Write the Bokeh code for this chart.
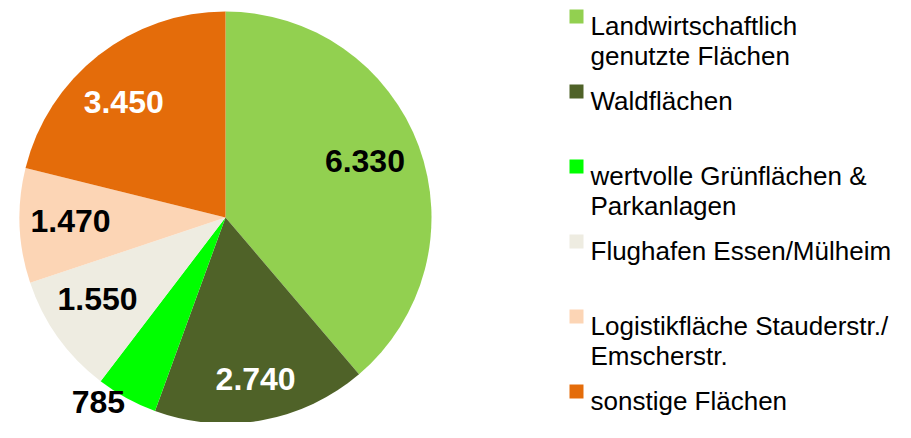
import math
from bokeh.plotting import figure
from bokeh.models import Range1d
from bokeh.core.properties import value
from bokeh.embed import file_html
from bokeh.resources import INLINE

# ---- data ----
categories = ["Landwirtschaftlich\ngenutzte Flächen", "Waldflächen",
              "wertvolle Grünflächen &\nParkanlagen", "Flughafen Essen/Mülheim",
              "Logistikfläche Stauderstr./\nEmscherstr.", "sonstige Flächen"]
values = [6330, 2740, 785, 1550, 1470, 3450]
value_labels = ["6.330", "2.740", "785", "1.550", "1.470", "3.450"]
colors = ["#92D050", "#4F6228", "#00FF00", "#EEECE1", "#FCD5B5", "#E46C0A"]
label_colors = ["black", "white", "black", "black", "black", "white"]

# ---- layout (pixel-like data coordinates: y measured up from bottom) ----
W, H = 895, 422
cx, cy, R = 225, H - 217, 206
label_r = [0.725, 0.81, 1.101, 0.743, 0.753, 0.735]
label_nudge_deg = [0.8, 0.2, -5.4, -2.3, 0.0, 4.2]
font = "Liberation Sans"

p = figure(width=W, height=H, x_range=Range1d(0, W), y_range=Range1d(0, H),
           output_backend="svg", toolbar_location=None, min_border=0,
           x_axis_type=None, y_axis_type=None)
p.grid.visible = False
p.outline_line_color = None
p.background_fill_color = "white"

total = float(sum(values))
starts, ends, lx, ly = [], [], [], []
cum = 0.0
for i, v in enumerate(values):
    a0 = math.pi / 2 - 2 * math.pi * cum / total
    cum += v
    a1 = math.pi / 2 - 2 * math.pi * cum / total
    starts.append(a0)
    ends.append(a1)
    mid = (a0 + a1) / 2 + math.radians(label_nudge_deg[i])
    lx.append(cx + label_r[i] * R * math.cos(mid))
    ly.append(cy + label_r[i] * R * math.sin(mid) + 3)

p.wedge(x=cx, y=cy, radius=R, start_angle=starts, end_angle=ends,
        direction="clock", fill_color=colors, line_color=None)

p.text(x=lx, y=ly, text=value_labels, text_color=label_colors,
       text_font=value(font), text_font_style="bold", text_font_size="32px",
       text_align="center", text_baseline="middle")

# legend
sq_x, txt_x = 576, 590
top_center = H - 16
step = 75
for i, (cat, col) in enumerate(zip(categories, colors)):
    yc = top_center - i * step
    p.rect(x=sq_x, y=yc, width=14, height=14, fill_color=col, line_color=None)
    for j, line in enumerate(cat.split("\n")):
        p.text(x=[txt_x], y=[yc - 9 - j * 30], text=[line], text_color="black",
               text_font=value(font), text_font_size="26px",
               text_align="left", text_baseline="alphabetic")

open("out.html", "w").write(file_html(p, INLINE))
